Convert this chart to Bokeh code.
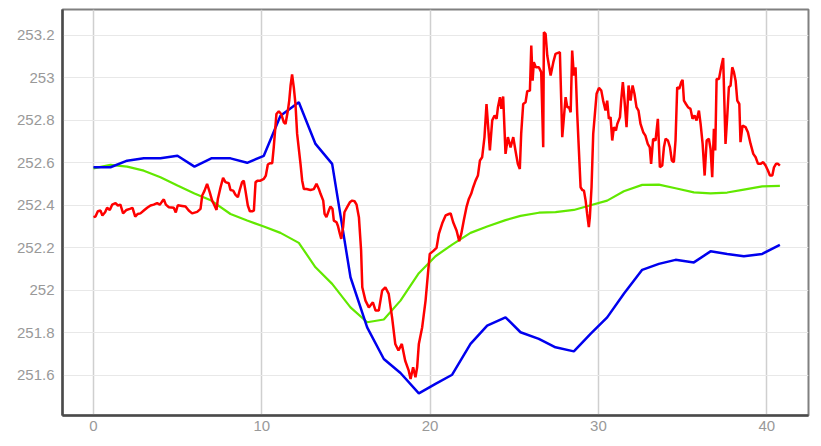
from bokeh.plotting import figure
from bokeh.models import FixedTicker, CustomJSTickFormatter, Range1d
from bokeh.embed import file_html
from bokeh.resources import INLINE

# ---- data ----
x_smooth = [0.0, 1.01, 2.0, 2.99, 3.98, 4.99, 6.0, 7.0, 8.14, 9.13, 10.12, 11.11, 12.2, 13.19,
            14.18, 15.27, 16.26, 17.25, 18.24, 19.33, 20.32, 21.31, 22.4, 23.39, 24.48, 25.37,
            26.46, 27.45, 28.54, 29.53, 30.52, 31.51, 32.6, 33.59, 34.58, 35.67, 36.66, 37.65,
            38.64, 39.73, 40.78]
blue_vals = [252.579, 252.579, 252.610, 252.621, 252.621, 252.633, 252.582, 252.621, 252.621,
             252.600, 252.633, 252.822, 252.885, 252.689, 252.595, 252.061, 251.825, 251.676,
             251.610, 251.514, 251.559, 251.602, 251.747, 251.833, 251.872, 251.802, 251.771,
             251.731, 251.712, 251.794, 251.872, 251.983, 252.096, 252.124, 252.143, 252.131,
             252.183, 252.171, 252.160, 252.171, 252.213]
green_vals = [252.574, 252.590, 252.582, 252.563, 252.532, 252.493, 252.456, 252.422, 252.359,
              252.328, 252.300, 252.270, 252.223, 252.108, 252.030, 251.919, 251.849, 251.862,
              251.951, 252.080, 252.160, 252.215, 252.270, 252.300, 252.330, 252.350, 252.365,
              252.368, 252.378, 252.400, 252.422, 252.466, 252.496, 252.497, 252.480, 252.461,
              252.456, 252.460, 252.474, 252.489, 252.491]

red_x = [0.0, 0.12, 0.26, 0.42, 0.53, 0.69, 0.81, 0.97, 1.11, 1.31, 1.45, 1.60, 1.76, 1.96, 2.16,
         2.32, 2.48, 2.63, 2.79, 2.99, 3.19, 3.39, 3.58, 3.78, 3.94, 4.06, 4.18, 4.30, 4.48, 4.77,
         4.89, 5.01, 5.27, 5.47, 5.66, 5.86, 6.16, 6.36, 6.46, 6.60, 6.75, 6.91, 7.05, 7.15, 7.31,
         7.39, 7.55, 7.70, 7.84, 8.04, 8.14, 8.30, 8.44, 8.58, 8.69, 8.83, 8.93, 9.03, 9.17, 9.29,
         9.43, 9.53, 9.63, 9.76, 9.92, 10.12, 10.24, 10.36, 10.48, 10.62, 10.71, 10.87, 11.01,
         11.15, 11.31, 11.41, 11.55, 11.63, 11.71, 11.80, 11.90, 12.00, 12.10, 12.30, 12.40,
         12.50, 12.66, 12.89, 13.09, 13.25, 13.39, 13.49, 13.65, 13.73, 13.84, 13.98, 14.08,
         14.20, 14.28, 14.44, 14.52, 14.64, 14.72, 14.83, 14.91, 15.07, 15.23, 15.37, 15.51,
         15.63, 15.77, 15.90, 15.97, 16.16, 16.36, 16.60, 16.76, 16.95, 17.15, 17.34, 17.54,
         17.74, 17.93, 18.12, 18.32, 18.52, 18.73, 18.84, 18.99, 19.13, 19.23, 19.33, 19.53,
         19.73, 19.87, 19.98, 20.18, 20.38, 20.52, 20.72, 20.92, 21.12, 21.22, 21.37, 21.57,
         21.73, 21.85, 22.00, 22.16, 22.30, 22.44, 22.56, 22.70, 22.84, 22.96, 23.09, 23.23,
         23.35, 23.45, 23.55, 23.69, 23.83, 23.95, 24.03, 24.15, 24.23, 24.34, 24.48, 24.62,
         24.78, 24.94, 25.07, 25.21, 25.33, 25.41, 25.53, 25.67, 25.77, 25.93, 26.01, 26.09,
         26.16, 26.28, 26.46, 26.60, 26.72, 26.76, 26.86, 26.96, 27.06, 27.16, 27.32, 27.45,
         27.71, 27.85, 27.95, 28.05, 28.15, 28.25, 28.35, 28.44, 28.54, 28.64, 28.74, 28.84,
         28.94, 29.04, 29.14, 29.24, 29.33, 29.43, 29.49, 29.59, 29.69, 29.79, 29.89, 30.03,
         30.17, 30.28, 30.42, 30.52, 30.62, 30.72, 30.82, 30.92, 31.04, 31.12, 31.28, 31.35,
         31.45, 31.55, 31.67, 31.79, 31.91, 32.03, 32.14, 32.26, 32.38, 32.50, 32.66, 32.79,
         32.93, 33.05, 33.13, 33.25, 33.39, 33.53, 33.65, 33.79, 33.89, 33.99, 34.13, 34.25,
         34.36, 34.48, 34.58, 34.68, 34.80, 34.92, 35.00, 35.08, 35.20, 35.32, 35.47, 35.59,
         35.71, 35.83, 35.97, 36.07, 36.19, 36.31, 36.43, 36.56, 36.66, 36.76, 36.86, 36.94,
         37.02, 37.16, 37.29, 37.41, 37.55, 37.65, 37.75, 37.85, 37.95, 38.05, 38.15, 38.25,
         38.37, 38.44, 38.56, 38.74, 38.88, 39.04, 39.20, 39.34, 39.48, 39.63, 39.79, 39.93,
         40.07, 40.19, 40.33, 40.43, 40.55, 40.67, 40.78]
red_vals = [252.344, 252.347, 252.372, 252.375, 252.352, 252.367, 252.388, 252.378, 252.403,
            252.410, 252.399, 252.403, 252.362, 252.378, 252.383, 252.388, 252.347, 252.359,
            252.362, 252.375, 252.388, 252.399, 252.403, 252.410, 252.403, 252.416, 252.428,
            252.403, 252.391, 252.388, 252.366, 252.400, 252.397, 252.394, 252.375, 252.362,
            252.369, 252.383, 252.446, 252.469, 252.501, 252.461, 252.422, 252.406, 252.378,
            252.430, 252.485, 252.529, 252.509, 252.504, 252.472, 252.469, 252.449, 252.438,
            252.472, 252.509, 252.516, 252.469, 252.399, 252.372, 252.372, 252.375, 252.509,
            252.516, 252.516, 252.524, 252.540, 252.592, 252.598, 252.598, 252.673, 252.830,
            252.843, 252.830, 252.791, 252.783, 252.846, 252.893, 252.964, 253.016, 252.956,
            252.878, 252.736, 252.595, 252.516, 252.477, 252.477, 252.472, 252.476, 252.501,
            252.477, 252.454, 252.422, 252.359, 252.344, 252.375, 252.394, 252.383, 252.328,
            252.320, 252.304, 252.265, 252.242, 252.297, 252.367, 252.391, 252.414, 252.422,
            252.419, 252.403, 252.344, 252.187, 252.014, 251.951, 251.919, 251.943, 251.904,
            251.904, 251.998, 252.014, 251.983, 251.872, 251.747, 251.716, 251.747, 251.668,
            251.621, 251.582, 251.637, 251.590, 251.637, 251.747, 251.826, 251.951, 252.077,
            252.171, 252.184, 252.199, 252.265, 252.315, 252.352, 252.359, 252.362, 252.320,
            252.281, 252.231, 252.265, 252.328, 252.391, 252.430, 252.454, 252.485, 252.516,
            252.540, 252.611, 252.626, 252.721, 252.877, 252.768, 252.658, 252.800, 252.823,
            252.807, 252.862, 252.909, 252.854, 252.912, 252.642, 252.721, 252.673, 252.721,
            252.658, 252.595, 252.571, 252.736, 252.877, 252.885, 252.937, 252.940, 253.152,
            252.987, 253.074, 253.050, 253.050, 253.027, 252.673, 253.215, 253.207, 253.105,
            253.058, 253.011, 253.074, 253.113, 253.121, 252.721, 252.815, 252.909, 252.862,
            252.862, 252.838, 253.129, 253.011, 253.050, 252.830, 252.658, 252.485, 252.472,
            252.469, 252.422, 252.359, 252.297, 252.344, 252.485, 252.736, 252.830, 252.925,
            252.953, 252.940, 252.893, 252.846, 252.893, 252.807, 252.815, 252.705, 252.768,
            252.752, 252.783, 252.815, 252.893, 252.980, 252.893, 252.768, 252.964, 252.893,
            252.964, 252.925, 252.862, 252.846, 252.783, 252.744, 252.728, 252.689, 252.673,
            252.595, 252.713, 252.705, 252.807, 252.579, 252.587, 252.673, 252.713, 252.705,
            252.673, 252.611, 252.603, 252.705, 252.956, 252.948, 252.980, 252.991, 252.893,
            252.877, 252.862, 252.854, 252.807, 252.823, 252.799, 252.846, 252.783, 252.689,
            252.540, 252.705, 252.713, 252.666, 252.532, 252.760, 252.658, 252.995, 252.995,
            253.050, 253.094, 252.689, 252.815, 252.956, 252.964, 253.050, 253.027, 252.987,
            252.893, 252.877, 252.697, 252.775, 252.768, 252.744, 252.689, 252.642, 252.626,
            252.595, 252.595, 252.603, 252.587, 252.564, 252.540, 252.540, 252.579, 252.595,
            252.595, 252.587]

x_ticks = [0, 10, 20, 30, 40]
y_ticks = [251.6, 251.8, 252.0, 252.2, 252.4, 252.6, 252.8, 253.0, 253.2]

# ---- figure ----
p = figure(width=813, height=439, output_backend="svg", toolbar_location=None,
           x_range=Range1d(-1.84, 42.48), y_range=Range1d(251.41, 253.322),
           min_border_left=62, min_border_right=5, min_border_top=9, min_border_bottom=24)
p.background_fill_color = "white"
p.border_fill_color = "white"
p.outline_line_color = "#808080"
p.outline_line_width = 2

p.line(x_smooth, green_vals, line_color="#62e800", line_width=2.2)
p.line(x_smooth, blue_vals, line_color="#0000ee", line_width=2.5)
p.line(red_x, red_vals, line_color="#ff0000", line_width=2.5)

p.xaxis.ticker = FixedTicker(ticks=x_ticks)
p.yaxis.ticker = FixedTicker(ticks=y_ticks)
p.yaxis.formatter = CustomJSTickFormatter(code="return String(Math.round(tick*10)/10);")

for ax in (p.xaxis[0], p.yaxis[0]):
    ax.axis_line_color = "#4a4a4a"
    ax.axis_line_width = 2.5
    ax.major_tick_line_color = None
    ax.minor_tick_line_color = None
    ax.major_tick_in = 0
    ax.major_tick_out = 0
    ax.major_label_text_font = "Liberation Sans"
    ax.major_label_text_font_size = "15px"
    ax.major_label_text_color = "#999999"
p.yaxis.major_label_standoff = 8
p.xaxis.major_label_standoff = 5

p.xgrid.grid_line_color = "#cfcfcf"
p.xgrid.grid_line_width = 1.5
p.ygrid.grid_line_color = "#e8e8e8"
p.ygrid.grid_line_width = 1

open("out.html", "w").write(file_html(p, INLINE))
